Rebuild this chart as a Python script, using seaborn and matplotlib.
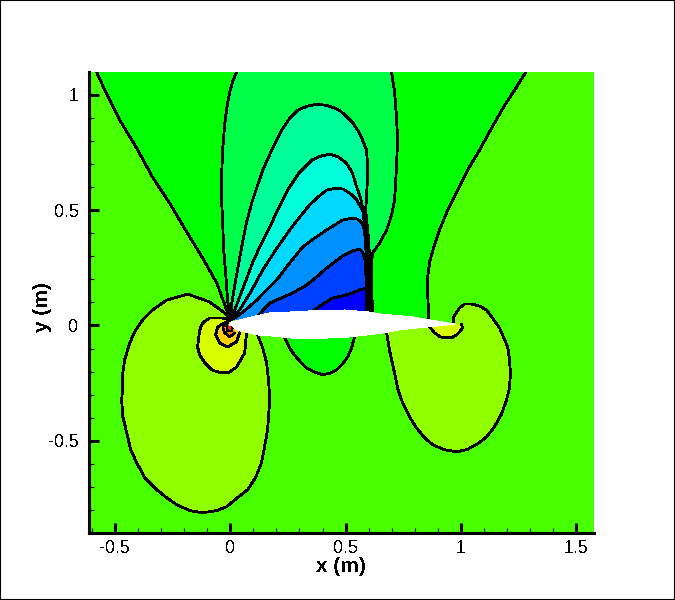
import matplotlib
matplotlib.use('Agg')
import matplotlib.pyplot as plt
from matplotlib.patches import Rectangle
from matplotlib.ticker import MultipleLocator
import seaborn as sns

sns.set_theme(style='ticks')
plt.rcParams['font.family'] = ['Liberation Sans', 'DejaVu Sans']
plt.rcParams['text.antialiased'] = False

# contour levels above the airfoil, outermost first
a_x = [0.002, -0.015, -0.058, -0.119, -0.188, -0.262, -0.336, -0.405, -0.478, -0.543, -0.578, -0.590,
       1.293, 1.280, 1.232, 1.189, 1.132, 1.080, 1.028, 0.985, 0.942, 0.907, 0.881, 0.864, 0.855, 0.855, 0.860]
a_y = [0.024, 0.067, 0.184, 0.292, 0.405, 0.530, 0.643, 0.769, 0.890, 1.020, 1.098, 1.120,
       1.120, 1.098, 1.020, 0.955, 0.855, 0.760, 0.673, 0.587, 0.500, 0.414, 0.336, 0.275, 0.206, 0.154, 0.028]
b_x = [0.002, -0.011, -0.019, -0.028, -0.032, -0.037, -0.037, -0.032, -0.024, -0.015, -0.002, 0.011, 0.028, 0.038,
       0.693, 0.699, 0.712, 0.721, 0.725, 0.721, 0.717, 0.712, 0.699, 0.678, 0.647, 0.617, 0.613, 0.613, 0.617]
b_y = [0.024, 0.110, 0.219, 0.327, 0.435, 0.543, 0.651, 0.769, 0.868, 0.942, 1.011, 1.059, 1.098, 1.120,
       1.120, 1.098, 1.015, 0.898, 0.803, 0.703, 0.621, 0.543, 0.478, 0.414, 0.357, 0.314, 0.275, 0.154, 0.050]
c_x = [0.002, 0.006, 0.024, 0.050, 0.071, 0.097, 0.141, 0.180, 0.223, 0.258, 0.292, 0.331, 0.375, 0.414, 0.444,
       0.478, 0.504, 0.530, 0.552, 0.574, 0.591, 0.595, 0.595, 0.591, 0.587, 0.600, 0.604, 0.608]
c_y = [0.024, 0.089, 0.197, 0.340, 0.448, 0.543, 0.673, 0.760, 0.847, 0.898, 0.933, 0.950, 0.959, 0.955, 0.946,
       0.929, 0.907, 0.881, 0.847, 0.803, 0.760, 0.695, 0.643, 0.565, 0.500, 0.370, 0.284, 0.050]
d_x = [0.002, 0.020, 0.041, 0.097, 0.136, 0.171, 0.210, 0.249, 0.301, 0.353, 0.392, 0.431, 0.470, 0.504, 0.530,
       0.548, 0.565, 0.574, 0.587, 0.591, 0.604]
d_y = [0.024, 0.067, 0.123, 0.271, 0.357, 0.426, 0.509, 0.587, 0.665, 0.717, 0.734, 0.743, 0.730, 0.703, 0.660,
       0.600, 0.552, 0.509, 0.392, 0.284, 0.050]
e_x = [0.002, 0.041, 0.089, 0.141, 0.197, 0.258, 0.301, 0.344, 0.379, 0.418, 0.461, 0.491, 0.517, 0.543, 0.561,
       0.574, 0.582, 0.591, 0.595, 0.600]
e_y = [0.024, 0.067, 0.145, 0.240, 0.327, 0.414, 0.470, 0.522, 0.556, 0.587, 0.595, 0.591, 0.574, 0.552, 0.522,
       0.496, 0.470, 0.370, 0.284, 0.050]
f_x = [0.002, 0.028, 0.071, 0.115, 0.158, 0.201, 0.258, 0.314, 0.366, 0.418, 0.452, 0.487, 0.530, 0.552, 0.569,
       0.582, 0.591, 0.595]
f_y = [0.024, 0.037, 0.071, 0.110, 0.154, 0.197, 0.271, 0.340, 0.379, 0.414, 0.435, 0.457, 0.465, 0.461, 0.448,
       0.414, 0.284, 0.050]
g_x = [0.119, 0.171, 0.271, 0.331, 0.379, 0.418, 0.487, 0.530, 0.561, 0.574, 0.587, 0.591]
g_y = [0.041, 0.097, 0.141, 0.175, 0.214, 0.249, 0.301, 0.323, 0.331, 0.318, 0.275, 0.050]
h_x = [0.353, 0.396, 0.444, 0.487, 0.530, 0.561, 0.591, 0.591]
h_y = [0.058, 0.089, 0.119, 0.128, 0.141, 0.154, 0.162, 0.050]

# below the airfoil
mid_x = [0.236, 0.253, 0.271, 0.301, 0.331, 0.366, 0.400, 0.435, 0.461, 0.487, 0.509, 0.526, 0.539]
mid_y = [-0.054, -0.089, -0.119, -0.154, -0.184, -0.202, -0.214, -0.206, -0.193, -0.167, -0.136, -0.097, -0.050]
lobe_x = [0.002, -0.024, -0.089, -0.184, -0.275, -0.336, -0.379, -0.414, -0.435, -0.457, -0.465, -0.465, -0.470,
          -0.465, -0.448, -0.431, -0.405, -0.370, -0.318, -0.275, -0.232, -0.175, -0.119, -0.058, -0.015, 0.032,
          0.076, 0.110, 0.136, 0.149, 0.162, 0.167, 0.171, 0.167, 0.158, 0.141, 0.119]
lobe_y = [0.024, 0.054, 0.102, 0.136, 0.110, 0.067, 0.024, -0.028, -0.076, -0.149, -0.206, -0.266, -0.323,
          -0.396, -0.465, -0.539, -0.595, -0.660, -0.712, -0.747, -0.777, -0.803, -0.812, -0.803, -0.786, -0.747,
          -0.712, -0.660, -0.595, -0.526, -0.452, -0.388, -0.323, -0.245, -0.162, -0.097, -0.041]
yellow_x = [0.002, -0.032, -0.089, -0.119, -0.132, -0.141, -0.132, -0.110, -0.080, -0.037, -0.002, 0.028, 0.063,
            0.067, 0.071]
yellow_y = [0.024, 0.032, 0.032, 0.011, -0.019, -0.093, -0.128, -0.162, -0.193, -0.206, -0.202, -0.180, -0.119,
            -0.076, -0.032]
gold_x = [0.002, -0.024, -0.054, -0.063, -0.045, -0.011, 0.028, 0.041]
gold_y = [0.024, 0.011, -0.006, -0.041, -0.076, -0.093, -0.071, -0.032]
orange_x = [-0.011, -0.032, -0.024, -0.002, 0.020]
orange_y = [0.011, -0.006, -0.032, -0.050, -0.032]
red_x = [-0.015, -0.011, 0.006, 0.011]
red_y = [0.000, -0.024, -0.024, -0.006]
rlobe_x = [0.678, 0.690, 0.712, 0.725, 0.747, 0.777, 0.807, 0.842, 0.877, 0.928, 0.981, 1.024, 1.067, 1.111, 1.145,
           1.176, 1.197, 1.210, 1.214, 1.210, 1.202, 1.167, 1.111, 1.080, 1.045, 1.015, 0.994, 0.968, 0.968]
rlobe_y = [-0.032, -0.106, -0.206, -0.271, -0.336, -0.397, -0.444, -0.487, -0.517, -0.539, -0.548, -0.539, -0.517,
           -0.483, -0.439, -0.383, -0.323, -0.271, -0.206, -0.149, -0.093, -0.011, 0.067, 0.084, 0.093, 0.093,
           0.076, 0.037, 0.011]
patch_x = [0.864, 0.885, 0.911, 0.937, 0.959, 0.981, 0.994, 1.006, 1.002]
patch_y = [-0.006, -0.032, -0.050, -0.054, -0.054, -0.041, -0.028, -0.011, 0.006]

foil_x = [-0.002, 0.006, 0.041, 0.128, 0.171, 0.258, 0.344, 0.496, 0.604, 0.647, 0.790, 0.864, 0.972,
          0.864, 0.734, 0.668, 0.517, 0.344, 0.258, 0.171, 0.115, 0.028, 0.011]
foil_y = [0.002, 0.015, 0.024, 0.045, 0.054, 0.058, 0.063, 0.067, 0.058, 0.050, 0.037, 0.024, 0.006,
          -0.006, -0.019, -0.032, -0.050, -0.058, -0.054, -0.045, -0.041, -0.019, -0.002]

x_ticks = [-0.5, 0, 0.5, 1, 1.5]
y_ticks = [-0.5, 0, 0.5, 1]
x_labels = ['-0.5', '0', '0.5', '1', '1.5']
y_labels = ['-0.5', '0', '0.5', '1']

levels = [
    (a_x, a_y, '#00ff00', 1.3),
    (b_x, b_y, '#00ff48', 1.3),
    (c_x, c_y, '#00ff98', 1.3),
    (d_x, d_y, '#00ffd8', 1.3),
    (e_x, e_y, '#00d8ff', 1.3),
    (f_x, f_y, '#0090ff', 1.3),
    (g_x, g_y, '#0040ff', 1.3),
    (h_x, h_y, '#0000ff', 1.3),
    (mid_x, mid_y, '#00ff00', 1.3),
    (lobe_x, lobe_y, '#90ff00', 1.3),
    (yellow_x, yellow_y, '#d8ff00', 1.3),
    (gold_x, gold_y, '#ffd000', 1.3),
    (orange_x, orange_y, '#ff8000', 1.1),
    (red_x, red_y, '#ff2000', 1.0),
    (rlobe_x, rlobe_y, '#90ff00', 1.3),
    (patch_x, patch_y, '#d8ff00', 1.3),
]

fig = plt.figure(figsize=(6.75, 6), dpi=100, facecolor='white')
ax = fig.add_axes([88.5 / 675, 67 / 600, (594 - 88.5) / 675, 461 / 600])
ax.set_facecolor('#48ff00')

for x, y, color, lw in levels:
    ax.fill(x, y, color=color, linewidth=0, antialiased=False)
    sns.lineplot(x=x, y=y, sort=False, estimator=None, color='black', linewidth=lw,
                 antialiased=False, legend=False, ax=ax)

ax.fill(foil_x, foil_y, color='white', linewidth=0, antialiased=False, zorder=3)

ax.set_xlim(-0.6136, 1.576)
ax.set_ylim(-0.9, 1.099)
ax.set_xticks(x_ticks, x_labels)
ax.set_yticks(y_ticks, y_labels)
ax.xaxis.set_minor_locator(MultipleLocator(0.1))
ax.yaxis.set_minor_locator(MultipleLocator(0.1))
ax.tick_params(which='major', direction='in', length=7.5, width=2.2, labelsize=13, color='black', labelcolor='black')
ax.tick_params(axis='x', which='major', pad=5)
ax.tick_params(axis='y', which='major', pad=7)
ax.tick_params(which='minor', direction='in', length=3.6, width=0.8, color='black')
ax.set_xlabel('x (m)', fontsize=15, fontweight='bold', color='black', labelpad=0)
ax.set_ylabel('y (m)', fontsize=15, fontweight='bold', color='black', labelpad=-3, y=0.49)
ax.grid(False)

for side in ('top', 'right'):
    ax.spines[side].set_visible(False)
for side in ('left', 'bottom'):
    ax.spines[side].set_linewidth(2.2)
    ax.spines[side].set_color('black')
    ax.spines[side].set_zorder(6)

fig.add_artist(Rectangle((0, 0), 1, 1, transform=fig.transFigure, fill=False, edgecolor='black', linewidth=1.5))

fig.savefig('out.png', dpi=100)
